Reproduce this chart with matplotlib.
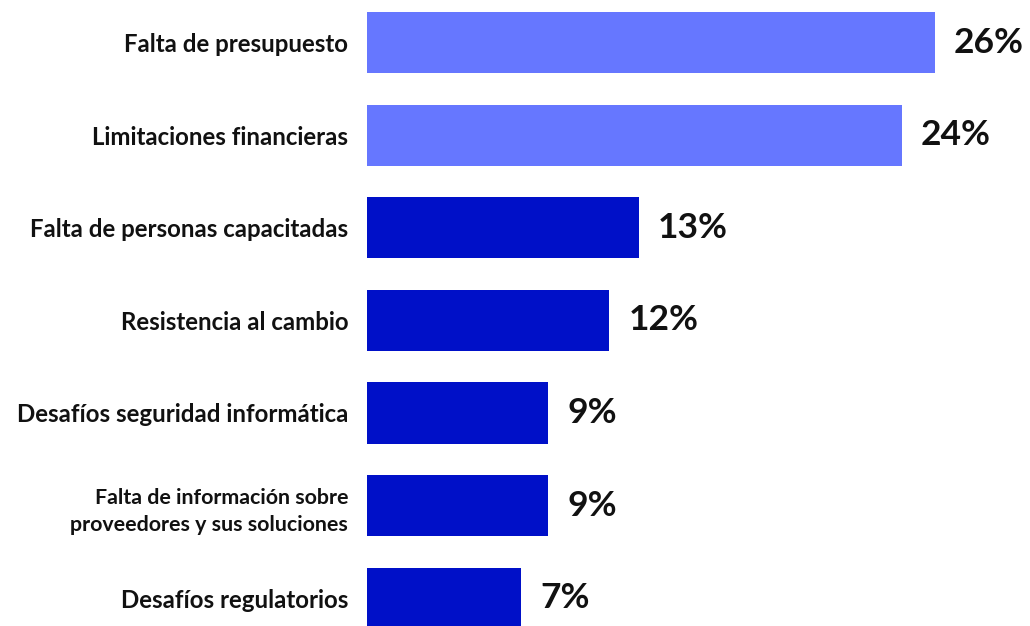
import matplotlib
matplotlib.use("Agg")
import matplotlib.pyplot as plt

plt.rcParams["font.family"] = ["Lato", "DejaVu Sans"]

categories = [
    "Falta de presupuesto",
    "Limitaciones financieras",
    "Falta de personas capacitadas",
    "Resistencia al cambio",
    "Desafíos seguridad informática",
    "Falta de información sobre\nproveedores y sus soluciones",
    "Desafíos regulatorios",
]
# bar lengths as drawn in the source (percent), labels as printed
bar_values = [26.0, 24.5, 12.45, 11.1, 8.3, 8.3, 7.05]
value_labels = ["26%", "24%", "13%", "12%", "9%", "9%", "7%"]

light = "#6677FF"
dark = "#0010C8"
colors = [light, light, dark, dark, dark, dark, dark]

fig = plt.figure(figsize=(10.30, 6.26), dpi=100)
ax = fig.add_axes([367 / 1030, 0, 655 / 1030, 1])

ypos = list(range(len(categories)))
ax.barh(ypos, bar_values, height=0.66, color=colors)

for y, v, lab in zip(ypos, bar_values, value_labels):
    ax.annotate(lab, (v, y), xytext=(19, 0), textcoords="offset pixels",
                va="center", ha="left", fontsize=25.5, fontweight="bold",
                color="#111111")

ax.set_xlim(0, 30)
ax.set_ylim(6.30, -0.459)
ax.set_yticks(ypos)
ax.set_yticklabels(categories, fontweight="bold", color="#111111",
                   linespacing=1.45)
for t, c in zip(ax.get_yticklabels(), categories):
    t.set_fontsize(15.4 if "\n" in c else 17.3)
ax.tick_params(axis="y", length=0, pad=13.5)
ax.set_xticks([])
for s in ax.spines.values():
    s.set_visible(False)

fig.savefig("out.png", dpi=100)
